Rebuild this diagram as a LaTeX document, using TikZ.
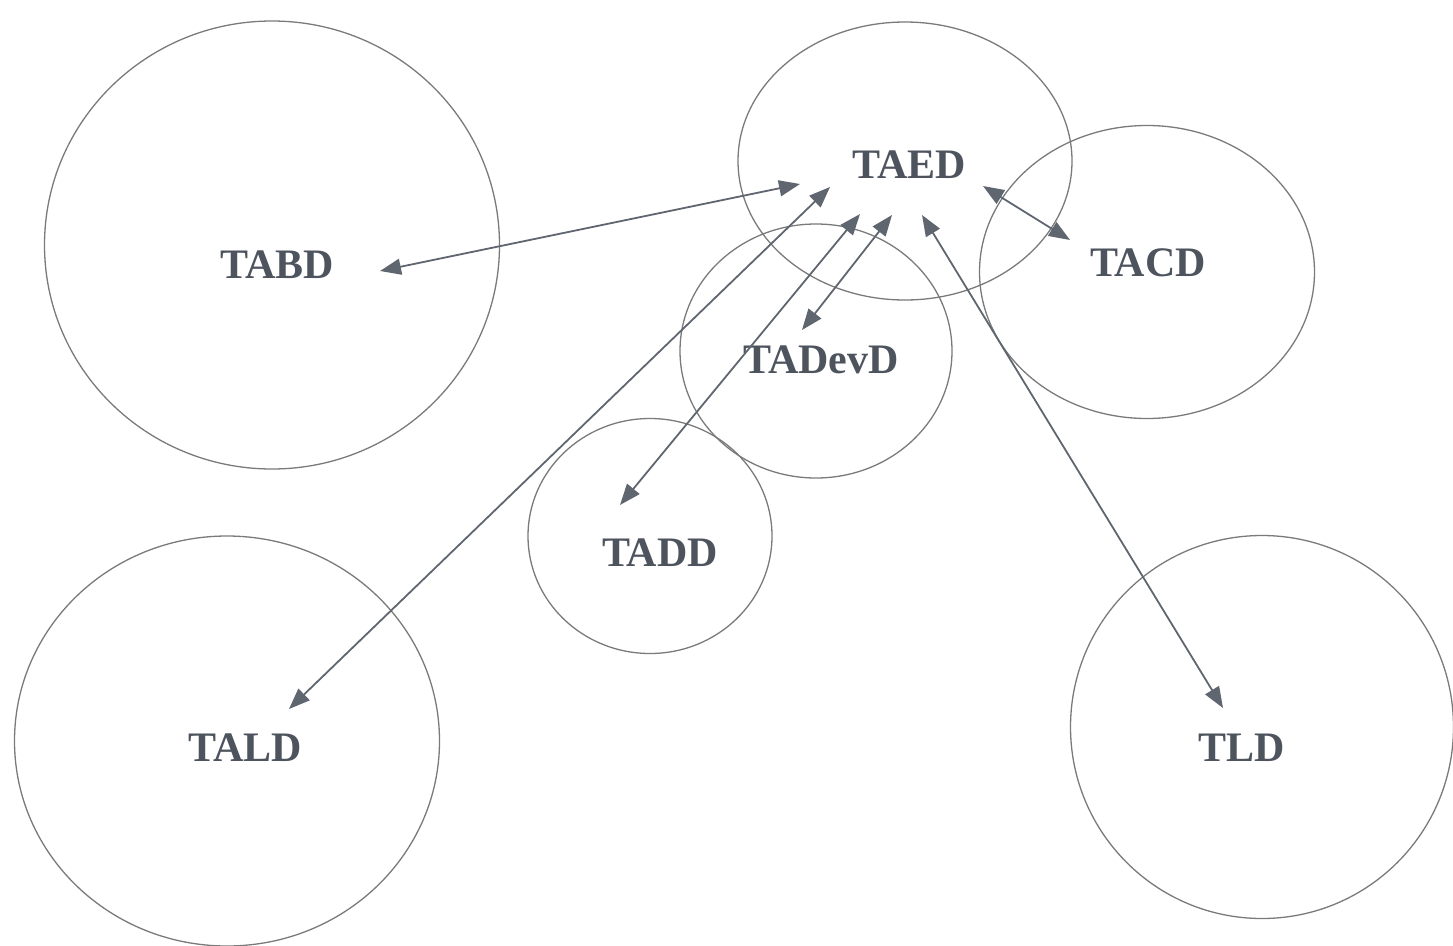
\documentclass[tikz,border=0pt]{standalone}
\usepackage{fontspec}
\setmainfont{Liberation Serif}
\usetikzlibrary{shapes.geometric,arrows.meta}
\definecolor{ink}{HTML}{4E545E}
\definecolor{ring}{HTML}{7A7A7A}
\definecolor{arr}{HTML}{5F6670}
\tikzset{
  ringshape/.style={ellipse, draw=ring, line width=1.3pt, inner sep=0pt},
  lbl/.style={text=ink, font=\fontsize{42}{48}\selectfont\bfseries, inner sep=0pt},
  link/.style={draw=arr, line width=1.8pt, {Triangle[length=21pt,width=16pt]}-{Triangle[length=21pt,width=16pt]}}
}
\begin{document}
\begin{tikzpicture}[x=1pt,y=-1pt]
\useasboundingbox (0,0) rectangle (1453,945);
% circles
\node[ringshape, minimum width=455pt, minimum height=448pt] (cABD) at (272,245) {};
\node[ringshape, minimum width=334pt, minimum height=278pt] (cAED) at (905,161) {};
\node[ringshape, minimum width=335pt, minimum height=293pt] (cACD) at (1147,272) {};
\node[ringshape, minimum width=272pt, minimum height=254pt] (cADevD) at (816,351) {};
\node[ringshape, minimum width=244pt, minimum height=235pt] (cADD) at (650,536) {};
\node[ringshape, minimum width=425pt, minimum height=410pt] (cALD) at (227,741) {};
\node[ringshape, minimum width=383pt, minimum height=383pt] (cLD) at (1262,727) {};
% labels
\node[lbl] (tAED) at (909,165) {TAED};
\node[lbl] (tABD) at (277,265) {TABD};
\node[lbl] (tACD) at (1148,263) {TACD};
\node[lbl] (tADevD) at (821,360) {TADevD};
\node[lbl] (tADD) at (660,553) {TADD};
\node[lbl] (tALD) at (245,748) {TALD};
\node[lbl] (tLD) at (1242,748) {TLD};
% arrow end points
\coordinate (pB1) at (380,271);
\coordinate (pB2) at (800,184);
\coordinate (pL1) at (289,709);
\coordinate (pL2) at (830,187);
\coordinate (pD1) at (620,505);
\coordinate (pD2) at (860,214);
\coordinate (pV1) at (802,330);
\coordinate (pV2) at (892,215);
\coordinate (pC1) at (983,186);
\coordinate (pC2) at (1070,240);
\coordinate (pT1) at (1223,708);
\coordinate (pT2) at (922,215);
% connectors
\draw[link] (pB1) -- (pB2);
\draw[link] (pL1) -- (pL2);
\draw[link] (pD1) -- (pD2);
\draw[link] (pV1) -- (pV2);
\draw[link] (pC1) -- (pC2);
\draw[link] (pT1) -- (pT2);
\end{tikzpicture}
\end{document}
